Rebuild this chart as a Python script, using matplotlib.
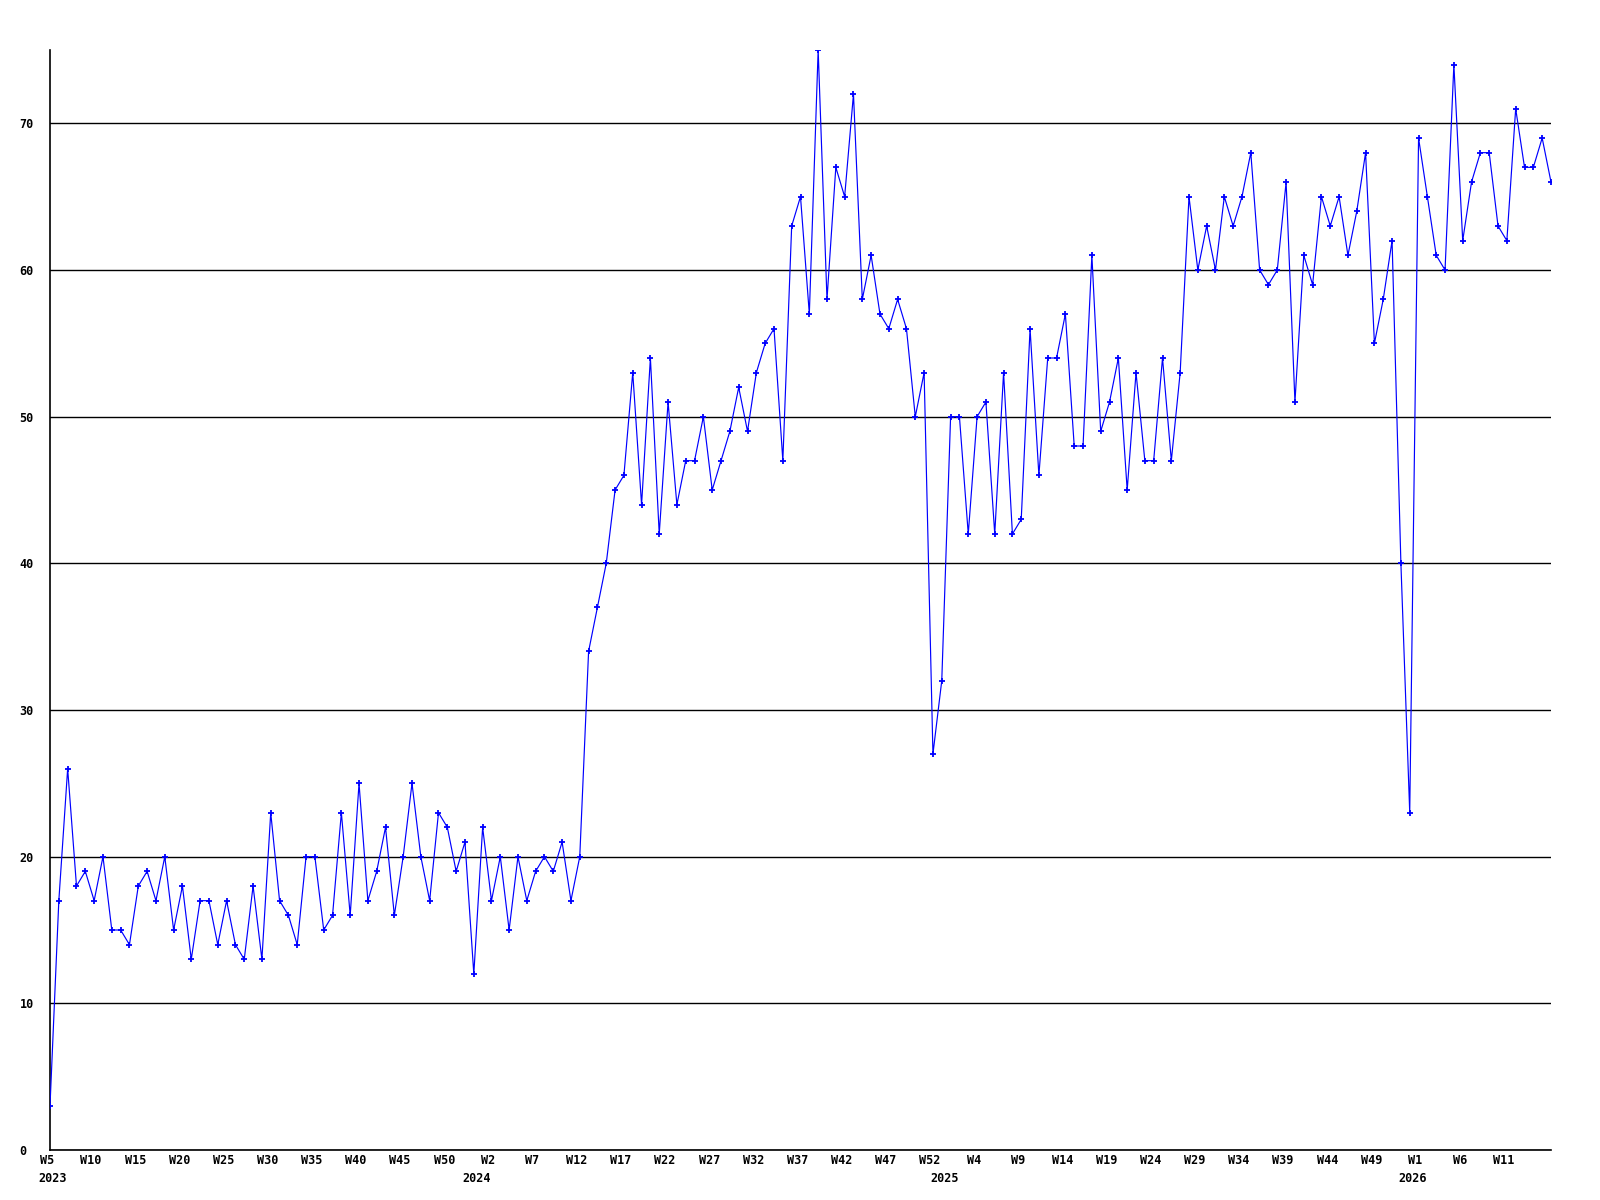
import matplotlib
matplotlib.use("Agg")
import matplotlib.pyplot as plt
from matplotlib.transforms import ScaledTranslation

# weekly values, 2023 W5 .. 2026 W16
values = [
    3, 17, 26, 18, 19, 17, 20, 15, 15, 14,
    18, 19, 17, 20, 15, 18, 13, 17, 17, 14,
    17, 14, 13, 18, 13, 23, 17, 16, 14, 20,
    20, 15, 16, 23, 16, 25, 17, 19, 22, 16,
    20, 25, 20, 17, 23, 22, 19, 21, 12, 22,
    17, 20, 15, 20, 17, 19, 20, 19, 21, 17,
    20, 34, 37, 40, 45, 46, 53, 44, 54, 42,
    51, 44, 47, 47, 50, 45, 47, 49, 52, 49,
    53, 55, 56, 47, 63, 65, 57, 75, 58, 67,
    65, 72, 58, 61, 57, 56, 58, 56, 50, 53,
    27, 32, 50, 50, 42, 50, 51, 42, 53, 42,
    43, 56, 46, 54, 54, 57, 48, 48, 61, 49,
    51, 54, 45, 53, 47, 47, 54, 47, 53, 65,
    60, 63, 60, 65, 63, 65, 68, 60, 59, 60,
    66, 51, 61, 59, 65, 63, 65, 61, 64, 68,
    55, 58, 62, 40, 23, 69, 65, 61, 60, 74,
    62, 66, 68, 68, 63, 62, 71, 67, 67, 69,
    66,
]

tick_labels = [
    "W5", "W10", "W15", "W20", "W25", "W30", "W35", "W40", "W45", "W50",
    "W2", "W7", "W12", "W17", "W22", "W27", "W32", "W37", "W42", "W47", "W52",
    "W4", "W9", "W14", "W19", "W24", "W29", "W34", "W39", "W44", "W49",
    "W1", "W6", "W11",
]
years = ["2023", "2024", "2025", "2026"]
year_start = [0, 49, 102, 155]  # index of first week of each year

x = list(range(len(values)))
font = dict(family="DejaVu Sans Mono", weight="bold", size=8.5)

fig = plt.figure(figsize=(16, 12), dpi=100)
ax = fig.add_axes([50 / 1600, 50 / 1200, 1501 / 1600, 1100 / 1200])

ax.plot(x, values, color="#0000ff", linewidth=0.85, marker="+",
        markersize=4, markeredgewidth=1.3, zorder=3)

ax.set_xlim(0, len(values) - 1)
ax.set_ylim(0, 75)

ax.set_yticks(range(0, 71, 10))
ax.yaxis.grid(True, color="black", linewidth=1.0)
ax.set_axisbelow(True)
ax.set_xticks(range(0, 5 * len(tick_labels), 5))
ax.set_xticklabels(tick_labels, fontdict=font)
ax.set_yticklabels([str(v) for v in range(0, 71, 10)], fontdict=font,
                   ha="left")
ax.tick_params(axis="y", length=0, pad=22)
ax.tick_params(axis="x", length=0, pad=3)

# labels in the original sit a few pixels left of the tick
shift = ScaledTranslation(-3 / 100, 0, fig.dpi_scale_trans)
for lab in ax.get_xticklabels():
    lab.set_transform(lab.get_transform() + shift)

for sp in ["top", "right"]:
    ax.spines[sp].set_visible(False)
for sp in ["left", "bottom"]:
    ax.spines[sp].set_linewidth(1.2)

for yr, idx in zip(years, year_start):
    ax.annotate(yr, xy=(idx, 0), xycoords=("data", "axes fraction"),
                xytext=(2 if idx == 0 else -4.5, -16), textcoords="offset points",
                ha="center", va="top", **font)

fig.savefig("out.png", dpi=100)
